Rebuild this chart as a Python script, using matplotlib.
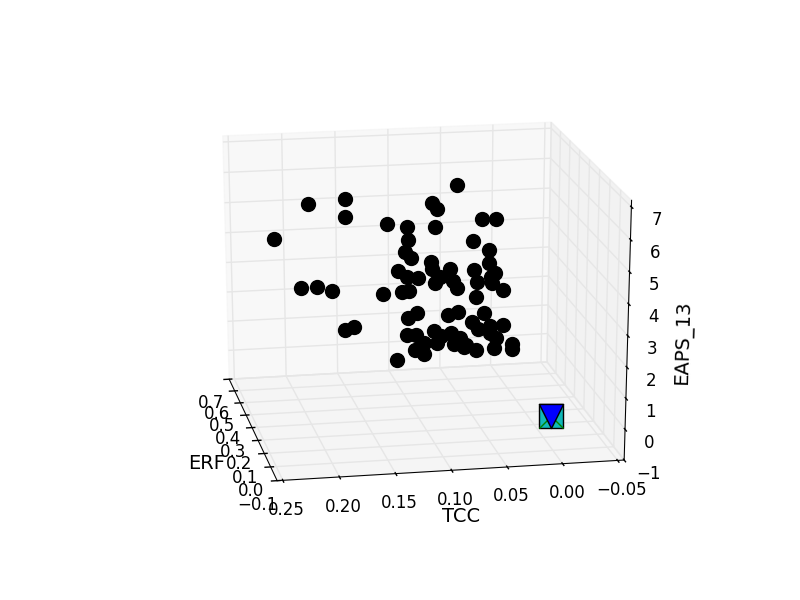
import matplotlib
matplotlib.use('Agg')
import matplotlib.pyplot as plt
from mpl_toolkits.mplot3d import Axes3D

erf = [0.3, 0.2, 0.4, 0.25, 0.35, 0.15, 0.3, 0.45, 0.2, 0.3, 0.25, 0.35,
       0.3, 0.2, 0.4, 0.25, 0.35, 0.15, 0.3, 0.45, 0.2, 0.3, 0.25, 0.35,
       0.3, 0.2, 0.4, 0.25, 0.35, 0.15, 0.3, 0.45, 0.2, 0.3, 0.25, 0.35,
       0.3, 0.2, 0.4, 0.25, 0.35, 0.15, 0.3, 0.45, 0.2, 0.3, 0.25, 0.35,
       0.3, 0.2, 0.4, 0.25, 0.35, 0.15, 0.3, 0.45, 0.2, 0.3, 0.25, 0.35,
       0.3, 0.2, 0.4, 0.25, 0.35, 0.15, 0.3, 0.45, 0.2, 0.3, 0.25, 0.35]
tcc = [0.065, 0.206, 0.160, 0.170, 0.084, 0.095, 0.129, 0.100,
       0.093, 0.042, 0.033, 0.229, 0.110, 0.058, 0.027, 0.116,
       0.104, 0.048, 0.089, 0.077, 0.079, 0.119, 0.053, 0.026,
       0.033, 0.118, 0.093, 0.084, 0.081, 0.080, 0.046, 0.020,
       0.073, 0.022, 0.211, 0.190, 0.180, 0.140, 0.108, 0.113,
       0.043, 0.113, 0.110, 0.061, 0.072, 0.040, 0.055, 0.041,
       0.034, 0.030, 0.153, 0.171, 0.107, 0.114, 0.086, 0.021,
       0.036, 0.070, 0.083, 0.058, 0.083, 0.075, 0.048, 0.051,
       0.026, 0.026, 0.013, 0.084, 0.111, 0.095, 0.124, 0.054]
eaps = [6.58, 6.53, 5.95, 5.90, 5.86, 6.34, 5.44, 4.79,
        5.62, 5.45, 5.60, 4.96, 4.90, 5.12, 4.09, 4.70,
        4.12, 4.58, 4.15, 3.37, 4.24, 3.91, 3.99, 3.49,
        3.55, 4.08, 3.28, 3.82, 3.28, 4.05, 3.43, 2.79,
        3.64, 3.11, 3.70, 3.34, 3.36, 3.57, 2.84, 3.43,
        2.75, 3.09, 2.36, 1.81, 2.85, 2.40, 2.31, 1.68,
        1.94, 2.35, 1.77, 2.26, 1.61, 2.39, 1.87, 1.11,
        1.93, 1.78, 1.91, 1.40, 1.47, 1.82, 0.96, 1.38,
        1.02, 1.92, 1.15, 0.89, 1.69, 1.14, 1.19, 1.11]
erf_marker = [0.03]
tcc_marker = [0.0]
eaps_marker = [0.0]

plt.style.use('classic')
fig = plt.figure(figsize=(8, 6), dpi=100, facecolor='white')
ax = fig.add_subplot(111, projection='3d')
# unit cube stretched to the whole axes box, like older mplot3d
ax.set_box_aspect((1, 1, 1), zoom=1 / 1.1)
ax.apply_aspect = lambda position=None: None
ax.set_position([0.1165, 0.0858, 0.794, 0.824])
ax.scatter(erf, tcc, eaps, s=100, c='k', depthshade=False)
ax.scatter(erf_marker, tcc_marker, eaps_marker, s=300, c='#10b8b8', marker='s', edgecolors='k', depthshade=False)
ax.scatter(erf_marker, tcc_marker, eaps_marker, s=300, c='g', marker='x', depthshade=False)
ax.scatter(erf_marker, tcc_marker, eaps_marker, s=300, c='b', marker='v', edgecolors='k', depthshade=False)
ax.set_xlim(-0.1, 0.7)
ax.set_ylim(-0.056, 0.255)
ax.set_zlim(-1, 7.2)
ax.set_xlabel('ERF', fontsize=14, labelpad=8)
ax.set_ylabel('TCC', fontsize=14, labelpad=6)
ax.set_zlabel('EAPS_13', fontsize=14, labelpad=6)
ax.view_init(elev=20, azim=169.3)
fig.savefig('out.png', dpi=100, facecolor='white')
